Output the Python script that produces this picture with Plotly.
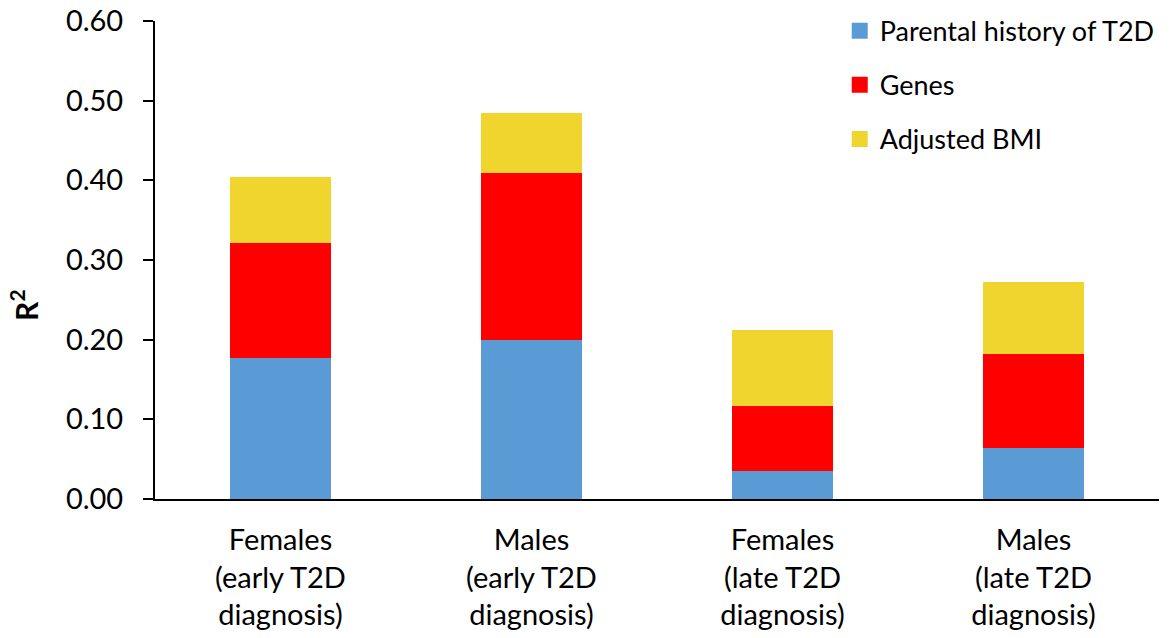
import plotly.graph_objects as go

categories = ["Females<br>(early T2D<br>diagnosis)", "Males<br>(early T2D<br>diagnosis)",
              "Females<br>(late T2D<br>diagnosis)", "Males<br>(late T2D<br>diagnosis)"]
parental = [0.177, 0.199, 0.035, 0.064]
genes = [0.144, 0.210, 0.082, 0.118]
bmi = [0.083, 0.076, 0.095, 0.090]
series_names = ["Parental history of T2D", "Genes", "Adjusted BMI"]
colors = ["#5B9BD5", "#FF0000", "#F0D52E"]
yticks = [0.0, 0.1, 0.2, 0.3, 0.4, 0.5, 0.6]

FONT = "Lato"
fig = go.Figure()
for name, vals, col in zip(series_names, [parental, genes, bmi], colors):
    fig.add_trace(go.Bar(x=categories, y=vals, name=name, marker_color=col,
                         marker_line_width=0, showlegend=False))
for name, col in zip(series_names, colors):
    fig.add_trace(go.Scatter(x=[None], y=[None], mode="markers", name=name,
                             legendgroup=name,
                             marker=dict(symbol="square", size=17, color=col)))

fig.update_layout(
    width=1170, height=638,
    margin=dict(l=155, r=11, t=21, b=139, autoexpand=False),
    barmode="stack", bargap=0.6,
    plot_bgcolor="white", paper_bgcolor="white",
    font=dict(family=FONT, size=29, color="black"),
    legend=dict(x=0.682, y=1.03, xanchor="left", yanchor="top",
                traceorder="grouped", tracegroupgap=16,
                font=dict(size=27), bgcolor="rgba(0,0,0,0)"),
    xaxis=dict(showline=True, linecolor="black", linewidth=2, ticks="",
               tickfont=dict(size=29), fixedrange=True, ticklabelstandoff=14),
    yaxis=dict(range=[0, 0.6], tickvals=yticks, tickformat=".2f",
               showline=True, linecolor="black", linewidth=2,
               ticks="outside", ticklen=10, tickwidth=2, tickcolor="black",
               showgrid=False, zeroline=False, ticklabelstandoff=14,
               tickfont=dict(size=29)),
    annotations=[dict(text="<b>R<sup>2</sup></b>", xref="paper", yref="paper",
                      x=0, y=0.404, xshift=-131, textangle=-90,
                      xanchor="center", yanchor="middle",
                      showarrow=False, font=dict(size=30))],
)
fig.write_html("out.html", config={"displayModeBar": False},
               post_script="document.body.style.margin='0';")
